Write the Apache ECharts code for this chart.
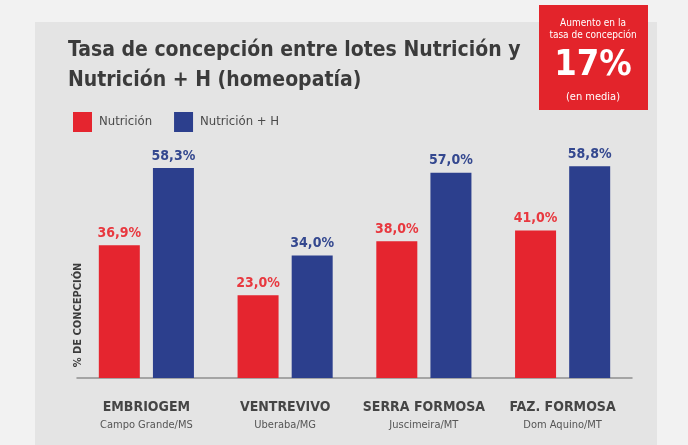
<!DOCTYPE html>
<html>
<head>
<meta charset="utf-8">
<script src="https://cdn.jsdelivr.net/npm/echarts@6/dist/echarts.min.js"></script>
<style>
  html, body { margin: 0; padding: 0; background: #f2f2f2; }
  #chart { width: 688px; height: 445px; }
</style>
</head>
<body>
<div id="chart"></div>
<script>
// data
const categories = ['EMBRIOGEM', 'VENTREVIVO', 'SERRA FORMOSA', 'FAZ. FORMOSA'];
const places = ['Campo Grande/MS', 'Uberaba/MG', 'Juscimeira/MT', 'Dom Aquino/MT'];
const nutricion = [36.9, 23.0, 38.0, 41.0];
const nutricionH = [58.3, 34.0, 57.0, 58.8];

const RED = '#e5252f';
const BLUE = '#2c3f8d';
const FONT = "'DejaVu Sans Condensed', sans-serif";

const fmt = p => p.value.toFixed(1).replace('.', ',') + '%';

const chart = echarts.init(document.getElementById('chart'));
chart.setOption({
  animation: false,
  textStyle: { fontFamily: FONT },
  title: {
    text: 'Tasa de concepción entre lotes Nutrición y\nNutrición + H (homeopatía)',
    left: 63,
    top: 31,
    textStyle: { fontFamily: FONT, fontSize: 21, fontWeight: 'bold', lineHeight: 30, color: '#3b3b3b' }
  },
  legend: {
    left: 68,
    top: 107,
    icon: 'rect',
    itemWidth: 19,
    itemHeight: 20,
    itemGap: 22,
    textStyle: { fontFamily: FONT, fontSize: 13, color: '#4a4a4a', padding: [0, 0, 0, 2] },
    data: ['Nutrición', 'Nutrición + H']
  },
  graphic: [
    {
      type: 'rect', z: -10, silent: true,
      shape: { x: 35, y: 22, width: 622, height: 430 },
      style: { fill: '#e4e4e4' }
    },
    {
      type: 'rect', z: 10, silent: true,
      shape: { x: 539, y: 5, width: 109, height: 105 },
      style: { fill: '#e3242b' }
    },
    {
      type: 'text', z: 11, x: 593, y: 23,
      style: { text: 'Aumento en la', fill: '#fff', font: '10px ' + FONT, textAlign: 'center', textVerticalAlign: 'middle' }
    },
    {
      type: 'text', z: 11, x: 593, y: 35,
      style: { text: 'tasa de concepción', fill: '#fff', font: '10px ' + FONT, textAlign: 'center', textVerticalAlign: 'middle' }
    },
    {
      type: 'text', z: 11, x: 593, y: 66,
      style: { text: '17%', fill: '#fff', font: 'bold 36px ' + FONT, textAlign: 'center', textVerticalAlign: 'middle' }
    },
    {
      type: 'text', z: 11, x: 593, y: 97,
      style: { text: '(en media)', fill: '#fff', font: '11px ' + FONT, textAlign: 'center', textVerticalAlign: 'middle' }
    },
    {
      type: 'text', z: 11, x: 78, y: 315, rotation: Math.PI / 2,
      style: { text: '% DE CONCEPCIÓN', fill: '#3b3b3b', font: 'bold 11px ' + FONT, textAlign: 'center', textVerticalAlign: 'middle' }
    }
  ],
  grid: { left: 77, right: 56, top: 162, bottom: 67 },
  xAxis: {
    type: 'category',
    data: categories,
    axisLine: { lineStyle: { color: '#8e8e8e', width: 1.5 } },
    axisTick: { inside: true, length: 5, lineStyle: { color: '#8e8e8e' } },
    axisLabel: {
      interval: 0,
      hideOverlap: false,
      margin: 20,
      formatter: (v, i) => '{a|' + v + '}\n{b|' + places[i] + '}',
      rich: {
        a: { fontFamily: FONT, fontSize: 14, fontWeight: 'bold', color: '#454545', lineHeight: 19 },
        b: { fontFamily: FONT, fontSize: 11, color: '#555', lineHeight: 17 }
      }
    }
  },
  yAxis: {
    type: 'value',
    min: 0,
    max: 60,
    show: false
  },
  series: [
    {
      name: 'Nutrición',
      type: 'bar',
      barWidth: 41,
      barGap: '32%',
      itemStyle: { color: RED },
      label: { show: true, position: 'top', distance: 5, formatter: fmt, fontFamily: FONT, fontSize: 14, fontWeight: 'bold', color: '#e8383f' },
      data: nutricion
    },
    {
      name: 'Nutrición + H',
      type: 'bar',
      barWidth: 41,
      itemStyle: { color: BLUE },
      label: { show: true, position: 'top', distance: 5, formatter: fmt, fontFamily: FONT, fontSize: 14, fontWeight: 'bold', color: '#34488f' },
      data: nutricionH
    }
  ]
});
</script>
</body>
</html>
